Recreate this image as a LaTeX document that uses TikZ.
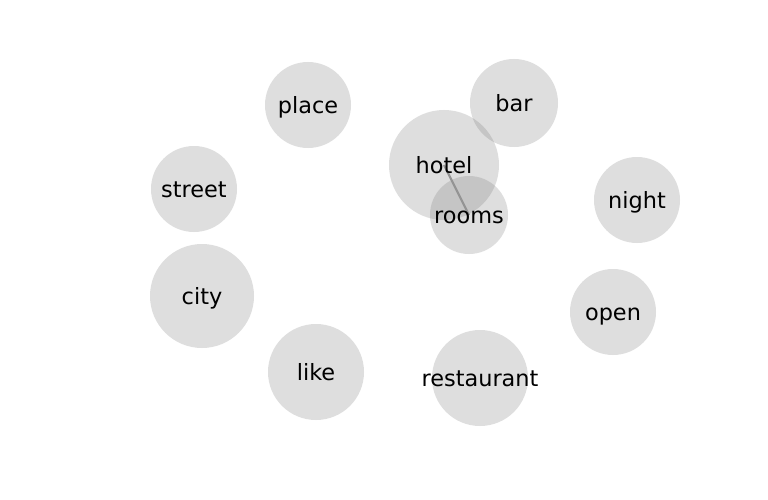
\documentclass[tikz,border=0pt]{standalone}
\usepackage{fontspec}
\setmainfont{DejaVu Sans}
\begin{document}
\begin{tikzpicture}[x=1pt,y=-1pt,
  bubble/.style={circle,fill=gray,fill opacity=0.26,inner sep=0pt},
  word/.style={font=\fontsize{22.4}{26}\selectfont,text=black,inner sep=0pt,
    text height=22.4pt,text depth=5.4pt},
  link/.style={draw=black!42,line width=2.2pt}]
\useasboundingbox[fill=white] (0,0) rectangle (768,500);
% circles
\foreach \n/\x/\y/\r in {place/308/105/43, bar/514/103/44, hotel/444/165/55,
  rooms/469/215/39, street/194/189/43, night/637/200/43, city/202/296/52,
  open/613/312/43, like/316/372/48, restaurant/480/378/48}{
  \node[bubble,minimum size=2*\r] (c\n) at (\x,\y) {};
}
% connector
\draw[link] (chotel.center) -- (crooms.center);
% labels
\foreach \n/\x/\y in {place/308/105, bar/514/103, hotel/444/165,
  rooms/469/215, street/194/189, night/637/200, city/202/296,
  open/613/312, like/316/372, restaurant/480/378}{
  \node[word] (t\n) at (\x,\y) {\n};
}
\end{tikzpicture}
\end{document}
